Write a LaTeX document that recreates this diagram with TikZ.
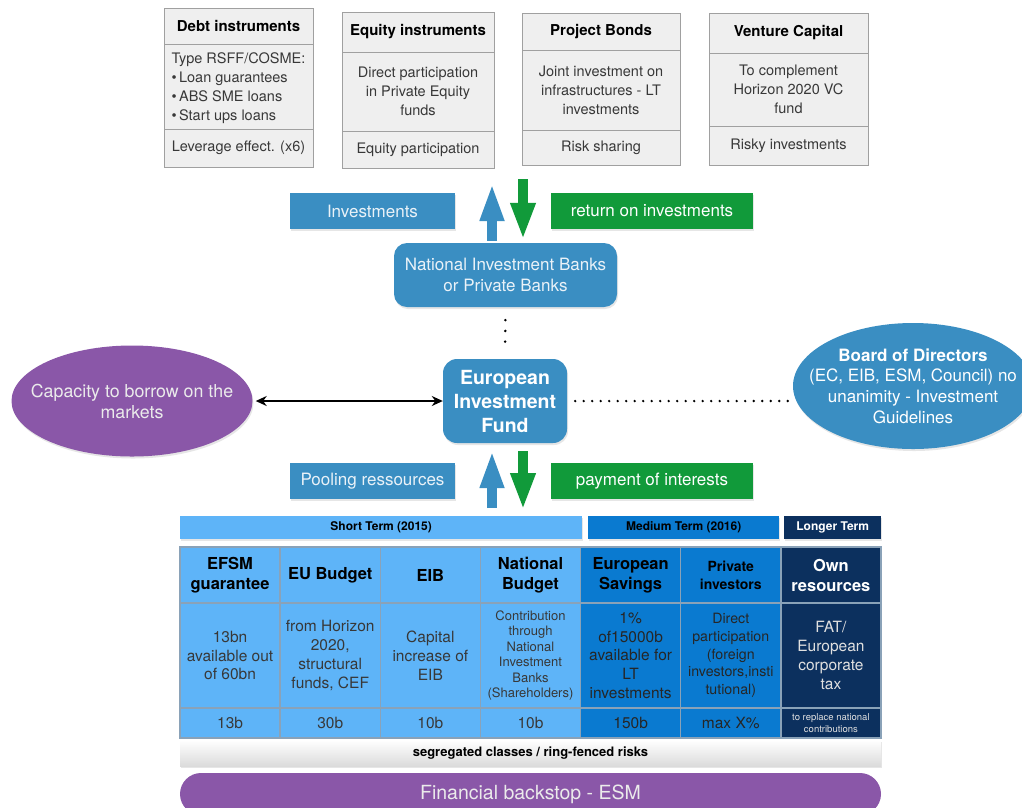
\documentclass[tikz,border=0pt]{standalone}
\usepackage{fontspec}
\setmainfont{TeX Gyre Heros}
\usepackage{xcolor}
\usepackage{tikz}
\usetikzlibrary{positioning,arrows.meta,shadows,shapes.geometric}
\definecolor{steel}{HTML}{3A8EC2}
\definecolor{leaf}{HTML}{119A3A}
\definecolor{plum}{HTML}{8A57A8}
\definecolor{sky}{HTML}{5EB4F8}
\definecolor{ocean}{HTML}{0A7AD0}
\definecolor{navy}{HTML}{0C305E}
\definecolor{paper}{HTML}{EFEFEF}
\definecolor{rim}{HTML}{A0A0A0}
\definecolor{ink}{HTML}{383838}
\definecolor{grid}{HTML}{8AA2B8}
\definecolor{pale}{HTML}{EAF2F8}
\tikzset{
  soft/.style={drop shadow={opacity=0.2, shadow xshift=1pt, shadow yshift=-2pt}},
  instHead/.style={draw=rim, fill=paper, line width=0.8pt, inner sep=0pt, outer sep=0pt, text=black, font=\fontsize{15}{18}\selectfont\bfseries},
  instBody/.style={draw=rim, fill=paper, line width=0.8pt, inner sep=0pt, outer sep=0pt, text=ink, align=center, font=\fontsize{14.5}{19}\selectfont},
  instFoot/.style={draw=rim, fill=paper, line width=0.8pt, inner sep=0pt, outer sep=0pt, text=ink, font=\fontsize{14.5}{18}\selectfont},
  tagBlue/.style={fill=steel, soft, text=pale, minimum height=36pt, inner sep=0pt, font=\fontsize{17}{21}\selectfont},
  tagGreen/.style={fill=leaf, soft, text=white, minimum height=36pt, inner sep=0pt, font=\fontsize{17}{21}\selectfont},
  bankBox/.style={fill=steel, soft, rounded corners=13pt, text=pale, align=center, inner sep=0pt, font=\fontsize{17}{21}\selectfont},
  fundBox/.style={fill=steel, soft, rounded corners=14pt, text=white, align=center, inner sep=0pt, font=\fontsize{19.5}{24}\selectfont\bfseries},
  capEll/.style={ellipse, fill=plum, soft, inner sep=0pt, minimum width=241pt, minimum height=111pt},
  boardEll/.style={ellipse, fill=steel, soft, inner sep=0pt, minimum width=240pt, minimum height=126pt},
  ellText/.style={align=center, inner sep=0pt, font=\fontsize{17}{20.7}\selectfont},
  upArr/.style={draw=steel, line width=10pt, -{Triangle[width=22pt,length=38pt]}},
  downArr/.style={draw=leaf, line width=10pt, -{Triangle[width=23pt,length=37pt]}},
  biArr/.style={line width=2pt, {Stealth[length=11pt,width=10pt]}-{Stealth[length=11pt,width=10pt]}},
  dotV/.style={line width=2.8pt, line cap=round, dash pattern=on 0pt off 10.7pt},
  dotH/.style={line width=2.6pt, line cap=round, dash pattern=on 0pt off 8.5pt},
  termBar/.style={soft, anchor=north west, minimum height=23pt, inner sep=0pt, font=\fontsize{12}{14}\selectfont\bfseries},
  cellHead/.style={draw=grid, line width=1.5pt, minimum width=100.14pt, minimum height=56pt, inner sep=0pt, outer sep=0pt, align=center, font=\fontsize{16.5}{20}\selectfont\bfseries},
  cellBody/.style={draw=grid, line width=1.5pt, minimum width=100.14pt, minimum height=105pt, inner sep=0pt, outer sep=0pt, align=center, font=\fontsize{15.5}{18.8}\selectfont},
  cellFoot/.style={draw=grid, line width=1.5pt, minimum width=100.14pt, minimum height=30pt, inner sep=0pt, outer sep=0pt, align=center, font=\fontsize{15.5}{18}\selectfont},
  ringBar/.style={soft, top color=white, bottom color=gray!28, minimum width=701pt, minimum height=26pt, inner sep=0pt, font=\fontsize{13}{15}\selectfont\bfseries},
  backstop/.style={fill=plum, rounded corners=21pt, minimum width=701pt, minimum height=42pt, inner sep=0pt, text=white!92!black, font=\fontsize{19.5}{22}\selectfont}
}

\begin{document}
\begin{tikzpicture}[x=1pt, y=-1pt]
  \useasboundingbox (0,0) rectangle (1022,807);
  \clip (0,0) rectangle (1022,807);

  \node[instHead, anchor=north west, minimum width=149pt, minimum height=36pt, text depth=-3pt] (debtHead) at (164,8) {Debt instruments};
  \node[instBody, minimum width=149pt, minimum height=85pt, below=0pt of debtHead, align=left, text depth=-5pt] (debtBody)
    {Type RSFF/COSME:\\\textbullet\,Loan guarantees\\\textbullet\,ABS SME loans\\\textbullet\,Start ups loans};
  \node[instFoot, minimum width=149pt, minimum height=38pt, below=0pt of debtBody] (debtFoot) {Leverage effect. (x6)};

  \node[instHead, anchor=north west, minimum width=152pt, minimum height=40pt] (equityHead) at (342,12) {Equity instruments};
  \node[instBody, minimum width=152pt, minimum height=79pt, below=0pt of equityHead] (equityBody)
    {Direct participation\\in Private Equity\\funds};
  \node[instFoot, minimum width=152pt, minimum height=37pt, below=0pt of equityBody] (equityFoot) {Equity participation};

  \node[instHead, anchor=north west, minimum width=158pt, minimum height=37pt] (bondHead) at (522,13) {Project Bonds};
  \node[instBody, minimum width=158pt, minimum height=80pt, below=0pt of bondHead] (bondBody)
    {Joint investment on\\infrastructures - LT\\investments};
  \node[instFoot, minimum width=158pt, minimum height=35pt, below=0pt of bondBody] (bondFoot) {Risk sharing};

  \node[instHead, anchor=north west, minimum width=159pt, minimum height=40pt] (ventHead) at (709,13) {Venture Capital};
  \node[instBody, minimum width=159pt, minimum height=73pt, below=0pt of ventHead] (ventBody)
    {To complement\\Horizon 2020 VC\\fund};
  \node[instFoot, minimum width=159pt, minimum height=39pt, below=0pt of ventBody] (ventFoot) {Risky investments};

  \node[tagBlue, minimum width=165pt] (invest) at (372.5,211) {Investments};
  \node[tagGreen, minimum width=202pt] (return) at (652,211) {return on investments};
  \node[bankBox, minimum width=223pt, minimum height=64pt] (nib) at (505.5,275) {National Investment Banks\\or Private Banks};

  \node[fundBox, minimum width=124pt, minimum height=84pt] (eif) at (505,401) {European\\Investment\\Fund};
  \node[capEll] (cap) at (132,401) {};
  \node[ellText, text=white!92!black, font=\fontsize{17.8}{21}\selectfont] (capText) at (cap) {Capacity to borrow on the\\markets};
  \node[boardEll] (board) at (913,386) {};
  \node[ellText, text=white] (boardText) at (board) {\textbf{Board of Directors}\\(EC, EIB, ESM, Council) no\\unanimity - Investment\\Guidelines};

  \node[tagBlue, minimum width=165pt] (pool) at (372.5,481) {Pooling ressources};
  \node[tagGreen, minimum width=202pt] (pay) at (652,481) {payment of interests};

  \node[termBar, fill=sky, minimum width=402pt] (shortTerm) at (180,516) {Short Term (2015)};
  \node[termBar, fill=ocean, minimum width=191pt] (midTerm) at (588,516) {Medium Term (2016)};
  \node[termBar, fill=navy, text=white, minimum width=97pt] (longTerm) at (784,516) {Longer Term};

  \coordinate (upTop) at (492,183);
  \coordinate (downTop) at (523,179);
  \draw[upArr, shorten <=2pt] (nib.north -| upTop) -- (upTop);
  \draw[downArr, shorten >=3pt] (downTop) -- (nib.north -| downTop);
  \draw[upArr, shorten <=8pt, shorten >=7pt] (shortTerm.north -| upTop) -- (eif.south -| upTop);
  \draw[downArr, shorten <=8pt, shorten >=6pt] (eif.south -| downTop) -- (shortTerm.north -| downTop);

  \draw[dotV, shorten <=13pt, shorten >=7pt] (nib.south) -- (eif.north);
  \draw[dotH, shorten <=8pt] (eif.east) -- (eif.east -| board.west);
  \draw[biArr, shorten <=3pt] (cap.east) -- (cap.east -| eif.west);

  \node[cellHead, fill=sky] (efsmHead) at (230.07,575) {EFSM\\guarantee};
  \node[cellHead, fill=sky, right=0pt of efsmHead] (budgetHead) {EU Budget};
  \node[cellHead, fill=sky, right=0pt of budgetHead] (eibHead) {EIB};
  \node[cellHead, fill=sky, right=0pt of eibHead] (nationHead) {National\\Budget};
  \node[cellHead, fill=ocean, right=0pt of nationHead] (saveHead) {European\\Savings};
  \node[cellHead, fill=ocean, right=0pt of saveHead, font=\fontsize{14}{17.7}\selectfont\bfseries] (privHead) {Private\\investors};
  \node[cellHead, fill=navy, text=white, right=0pt of privHead] (ownHead) {Own\\resources};

  \node[cellBody, fill=sky, text=ink, below=0pt of efsmHead] (efsmBody) {13bn\\available out\\of 60bn};
  \node[cellBody, fill=sky, text=ink, below=0pt of budgetHead] (budgetBody) {from Horizon\\2020,\\structural\\funds, CEF};
  \node[cellBody, fill=sky, text=ink, below=0pt of eibHead] (eibBody) {Capital\\increase of\\EIB};
  \node[cellBody, fill=sky, text=ink, below=0pt of nationHead, font=\fontsize{13}{15.5}\selectfont] (nationBody)
    {Contribution\\through\\National\\Investment\\Banks\\(Shareholders)};
  \node[cellBody, fill=ocean, text=black!85, below=0pt of saveHead] (saveBody) {1\%\\of15000b\\available for\\LT\\investments};
  \node[cellBody, fill=ocean, text=black!85, below=0pt of privHead, font=\fontsize{14.2}{17.6}\selectfont] (privBody)
    {Direct\\participation\\(foreign\\investors,insti\\tutional)};
  \node[cellBody, fill=navy, text=white!88!black, below=0pt of ownHead] (ownBody) {FAT/\\European\\corporate\\tax};

  \node[cellFoot, fill=sky, text=ink, below=0pt of efsmBody] (efsmFoot) {13b};
  \node[cellFoot, fill=sky, text=ink, below=0pt of budgetBody] (budgetFoot) {30b};
  \node[cellFoot, fill=sky, text=ink, below=0pt of eibBody] (eibFoot) {10b};
  \node[cellFoot, fill=sky, text=ink, below=0pt of nationBody] (nationFoot) {10b};
  \node[cellFoot, fill=ocean, text=black!85, below=0pt of saveBody] (saveFoot) {150b};
  \node[cellFoot, fill=ocean, text=black!85, below=0pt of privBody] (privFoot) {max X\%};
  \node[cellFoot, fill=navy, text=white!88!black, below=0pt of ownBody, font=\fontsize{9.5}{11.5}\selectfont] (ownFoot)
    {to replace national\\contributions};

  \node[ringBar] (ring) at (530.5,753) {segregated classes / ring-fenced risks};
  \node[backstop] (esm) at (530.5,794) {Financial backstop - ESM};
\end{tikzpicture}
\end{document}
